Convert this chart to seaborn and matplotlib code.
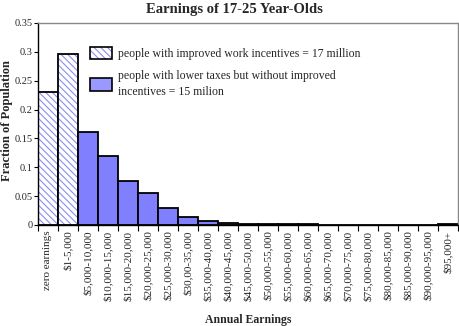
import matplotlib
matplotlib.use("Agg")
import matplotlib.pyplot as plt
import matplotlib.colors as mcolors
import seaborn as sns
import pandas as pd
from matplotlib.patches import Patch

categories = ["zero earnings", "$1-5,000", "$5,000-10,000", "$10,000-15,000",
              "$15,000-20,000", "$20,000-25,000", "$25,000-30,000", "$30,00-35,000",
              "$35,000-40,000", "$40,000-45,000", "$45,000-50,000", "$50,000-55,000",
              "$55,000-60,000", "$60,000-65,000", "$65,000-70,000", "$70,000-75,000",
              "$75,000-80,000", "$80,000-85,000", "$85,000-90,000", "$90,000-95,000",
              "$95,000+"]
values = [0.230, 0.296, 0.162, 0.119, 0.076, 0.055, 0.029, 0.014, 0.0077, 0.004,
          0.002, 0.001, 0.001, 0.001, 0.0, 0.0, 0.0, 0.0, 0.0, 0.0, 0.001]
series_names = ["people with improved work incentives = 17 million",
                "people with lower taxes but without improved\nincentives = 15 milion"]
series_of_bar = [0, 0] + [1] * 19
yticks = [0, 0.05, 0.1, 0.15, 0.2, 0.25, 0.3, 0.35]
ytick_labels = ["0", "0.05", "0.1", "0.15", "0.2", "0.25", "0.3", "0.35"]

df = pd.DataFrame({"cat": categories, "val": values,
                   "series": [series_names[i] for i in series_of_bar]})

sns.set_theme(style="white")
plt.rcParams["font.family"] = ["Liberation Serif", "DejaVu Serif"]
plt.rcParams["hatch.linewidth"] = 0.8

fig = plt.figure(figsize=(4.6, 3.26), dpi=100)
ax = fig.add_axes([38 / 460, 1 - 225 / 326, 420 / 460, 202 / 326])

blue = "#8080ff"
hatch_blue = mcolors.to_rgba("#8c8cf0")
hatch = "\\\\\\\\\\"


def blue_hatch(p):
    p.set_hatch(hatch)
    if hasattr(p, "set_hatchcolor"):
        p.set_hatchcolor(hatch_blue)
    else:
        p._hatch_color = hatch_blue
    p.stale = True


sns.barplot(data=df, x="cat", y="val", hue="series", order=categories,
            hue_order=series_names, dodge=False, width=1.0,
            palette=["white", blue], edgecolor="black", linewidth=1.3,
            saturation=1, legend=False, ax=ax)
for p in ax.containers[0]:
    blue_hatch(p)

ax.set_xlim(-0.5, len(categories) - 0.5)
ax.set_ylim(0, 0.35)
ax.set_yticks(yticks)
ax.set_yticklabels(ytick_labels, fontsize=7.5)
ax.set_xticks([i - 0.5 for i in range(len(categories) + 1)], minor=False)
ax.set_xticklabels([])
ax.set_xticks(range(len(categories)), minor=True)
ax.set_xticklabels(categories, minor=True, rotation=90, fontsize=8)
ax.tick_params(axis="x", which="major", direction="out", length=4, width=0.8, color="black", bottom=True)
ax.tick_params(axis="x", which="minor", length=0, pad=4)
ax.tick_params(axis="y", direction="out", length=3, width=0.8, color="black", left=True, pad=1)

for s in ["left", "bottom"]:
    ax.spines[s].set_color("black")
    ax.spines[s].set_linewidth(1.0)
for s in ["top", "right"]:
    ax.spines[s].set_color("#888888")
    ax.spines[s].set_linewidth(1.0)

ax.set_xlabel("Annual Earnings", fontsize=8.5, fontweight="bold")
ax.xaxis.set_label_coords(0.5, -0.44)
ax.set_ylabel("Fraction of Population", fontsize=9, fontweight="bold")
ax.yaxis.set_label_coords(-0.06, 0.515)
ax.set_title("Earnings of 17-25 Year-Olds", fontsize=10.5, fontweight="bold", pad=7, x=0.467)

h1 = Patch(facecolor="white", edgecolor="black", linewidth=1.2)
blue_hatch(h1)
h2 = Patch(facecolor="#9999ff", edgecolor="black", linewidth=1.2)
leg = ax.legend([h1, h2], series_names, loc="upper left", bbox_to_anchor=(0.112, 0.905),
                frameon=False, fontsize=8.5, handlelength=1.85, handleheight=1.2,
                handletextpad=0.5, labelspacing=0.85, borderaxespad=0)
for t in leg.get_texts():
    t.set_linespacing(1.45)
for hp in leg.legend_handles[:1]:
    blue_hatch(hp)

fig.savefig("out.png", dpi=100)
